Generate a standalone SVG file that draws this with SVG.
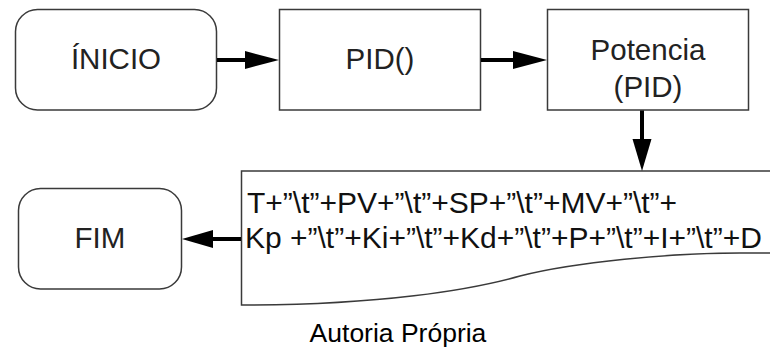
<svg xmlns="http://www.w3.org/2000/svg" width="770" height="347" viewBox="0 0 770 347">
<style>
.box{fill:#fff;stroke:#3a3a3a;stroke-width:1.5}
.t{font-family:"Liberation Sans",Arial,sans-serif;font-size:29.5px;fill:#222;text-anchor:middle}
.d{font-family:"Liberation Sans",Arial,sans-serif;font-size:30px;fill:#111}
.c{font-family:"Liberation Sans",Arial,sans-serif;font-size:26.5px;fill:#000;text-anchor:middle}
.ln{stroke:#000;stroke-width:4;fill:none}
.hd{fill:#000}
</style>
<rect width="770" height="347" fill="#fff"/>
<g id="inicio">
<rect class="box" x="15.5" y="9.5" width="201" height="100.5" rx="22"/>
<text class="t" x="116" y="69">ÍNICIO</text>
</g>
<g id="pid">
<rect class="box" x="279.5" y="9.5" width="201" height="100.5"/>
<text class="t" x="380" y="69">PID()</text>
</g>
<g id="potencia">
<rect class="box" x="547.5" y="9.5" width="201" height="100.5"/>
<text class="t" x="648" y="59.5">Potencia</text>
<text class="t" x="648" y="96.5">(PID)</text>
</g>
<g id="saida">
<path class="box" d="M241.5,305 L241.5,171 L771,171 L771,253 L740,253 C670,253 575,262 520,276 C470,290 380,305 241.5,305 Z"/>
<text class="d" x="247" y="213">T+”\t”+PV+”\t”+SP+”\t”+MV+”\t”+</text>
<text class="d" x="245" y="248">Kp +”\t”+Ki+”\t”+Kd+”\t”+P+”\t”+I+”\t”+D</text>
</g>
<g id="fim">
<rect class="box" x="18.5" y="188.5" width="163" height="100.5" rx="22"/>
<text class="t" x="100" y="247.5">FIM</text>
</g>
<g id="connectors">
<line class="ln" x1="217" y1="60" x2="247" y2="60"/>
<polygon class="hd" points="245,51 279,60 245,69"/>
<line class="ln" x1="481" y1="60" x2="515" y2="60"/>
<polygon class="hd" points="513,51 547,60 513,69"/>
<line class="ln" x1="642" y1="110.5" x2="642" y2="141"/>
<polygon class="hd" points="632.5,139 651.5,139 642,171"/>
<line class="ln" x1="241" y1="239" x2="211" y2="239"/>
<polygon class="hd" points="213,230 182,239 213,248"/>
</g>
<text class="c" x="398" y="342">Autoria Própria</text>
</svg>
